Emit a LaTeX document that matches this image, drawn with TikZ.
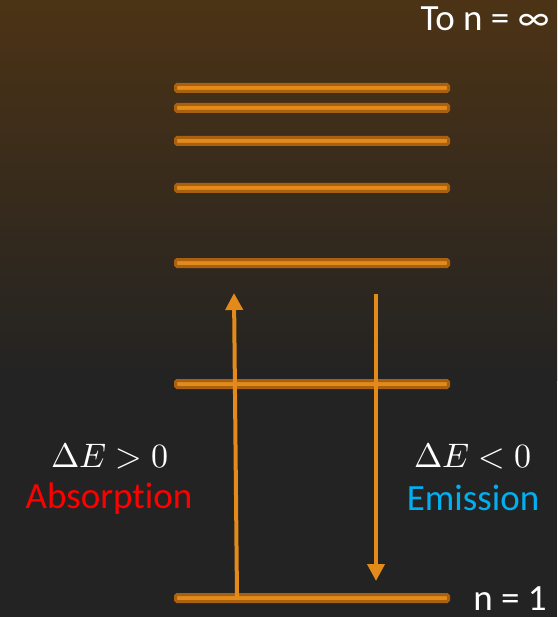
\documentclass[tikz,border=0pt]{standalone}
\usepackage{fontspec}
\usepackage{unicode-math}
\setmainfont{Carlito}[Ligatures={NoCommon}]
\setmathfont{Latin Modern Math}
\usetikzlibrary{arrows.meta}
\definecolor{bgtop}{HTML}{4C3315}
\definecolor{bgbot}{HTML}{232323}
\definecolor{lvl}{HTML}{E38A1B}
\definecolor{lvldark}{HTML}{A9600F}
\definecolor{emis}{HTML}{00B0F0}
\tikzset{
  level/.style={draw=lvldark, fill=lvl, line width=3pt, rounded corners=1.5pt},
  trans/.style={draw=lvl, line width=4pt, -{Triangle[width=17pt,length=17pt]}},
  lbl/.style={font=\fontsize{37}{42}\selectfont, text=white},
  mathlbl/.style={font=\fontsize{34}{40}\selectfont, text=white}
}
\begin{document}
\begin{tikzpicture}[x=1pt, y=-1pt]
    \useasboundingbox (0,0) rectangle (557,617);
    % Background
    \shade[top color=bgtop, bottom color=bgbot] (0,0) rectangle (557,380);
    \fill[bgbot] (0,379) rectangle (557,617);
    % Energy levels
    \foreach \y [count=\i] in {88,108,141,188,263,384,598} {
      \draw[level] (175.5,\y-3.5) rectangle (448.5,\y+3.5);
    }
    % Transition end points
    \coordinate (absfrom) at (237,597);
    \coordinate (absto) at (234,293);
    \coordinate (emfrom) at (376,294);
    \coordinate (emto) at (376,581);
    % Transitions
    \draw[trans] (absfrom) -- (absto);
    \draw[trans] (emfrom) -- (emto);
    % Labels
    \node[lbl, inner sep=1pt] (inf) at (485,19) {To n = ∞};
    \node[lbl, inner sep=1pt] (ground) at (510,599) {n = 1};
    \node[mathlbl] (dEpos) at (110,456) {$\Delta E > 0$};
    \node[lbl, text=red] (absorb) at (109,499) {Absorption};
    \node[mathlbl] (dEneg) at (473,456) {$\Delta E < 0$};
    \node[lbl, text=emis] (emit) at (473,498) {Emission};
\end{tikzpicture}
\end{document}
